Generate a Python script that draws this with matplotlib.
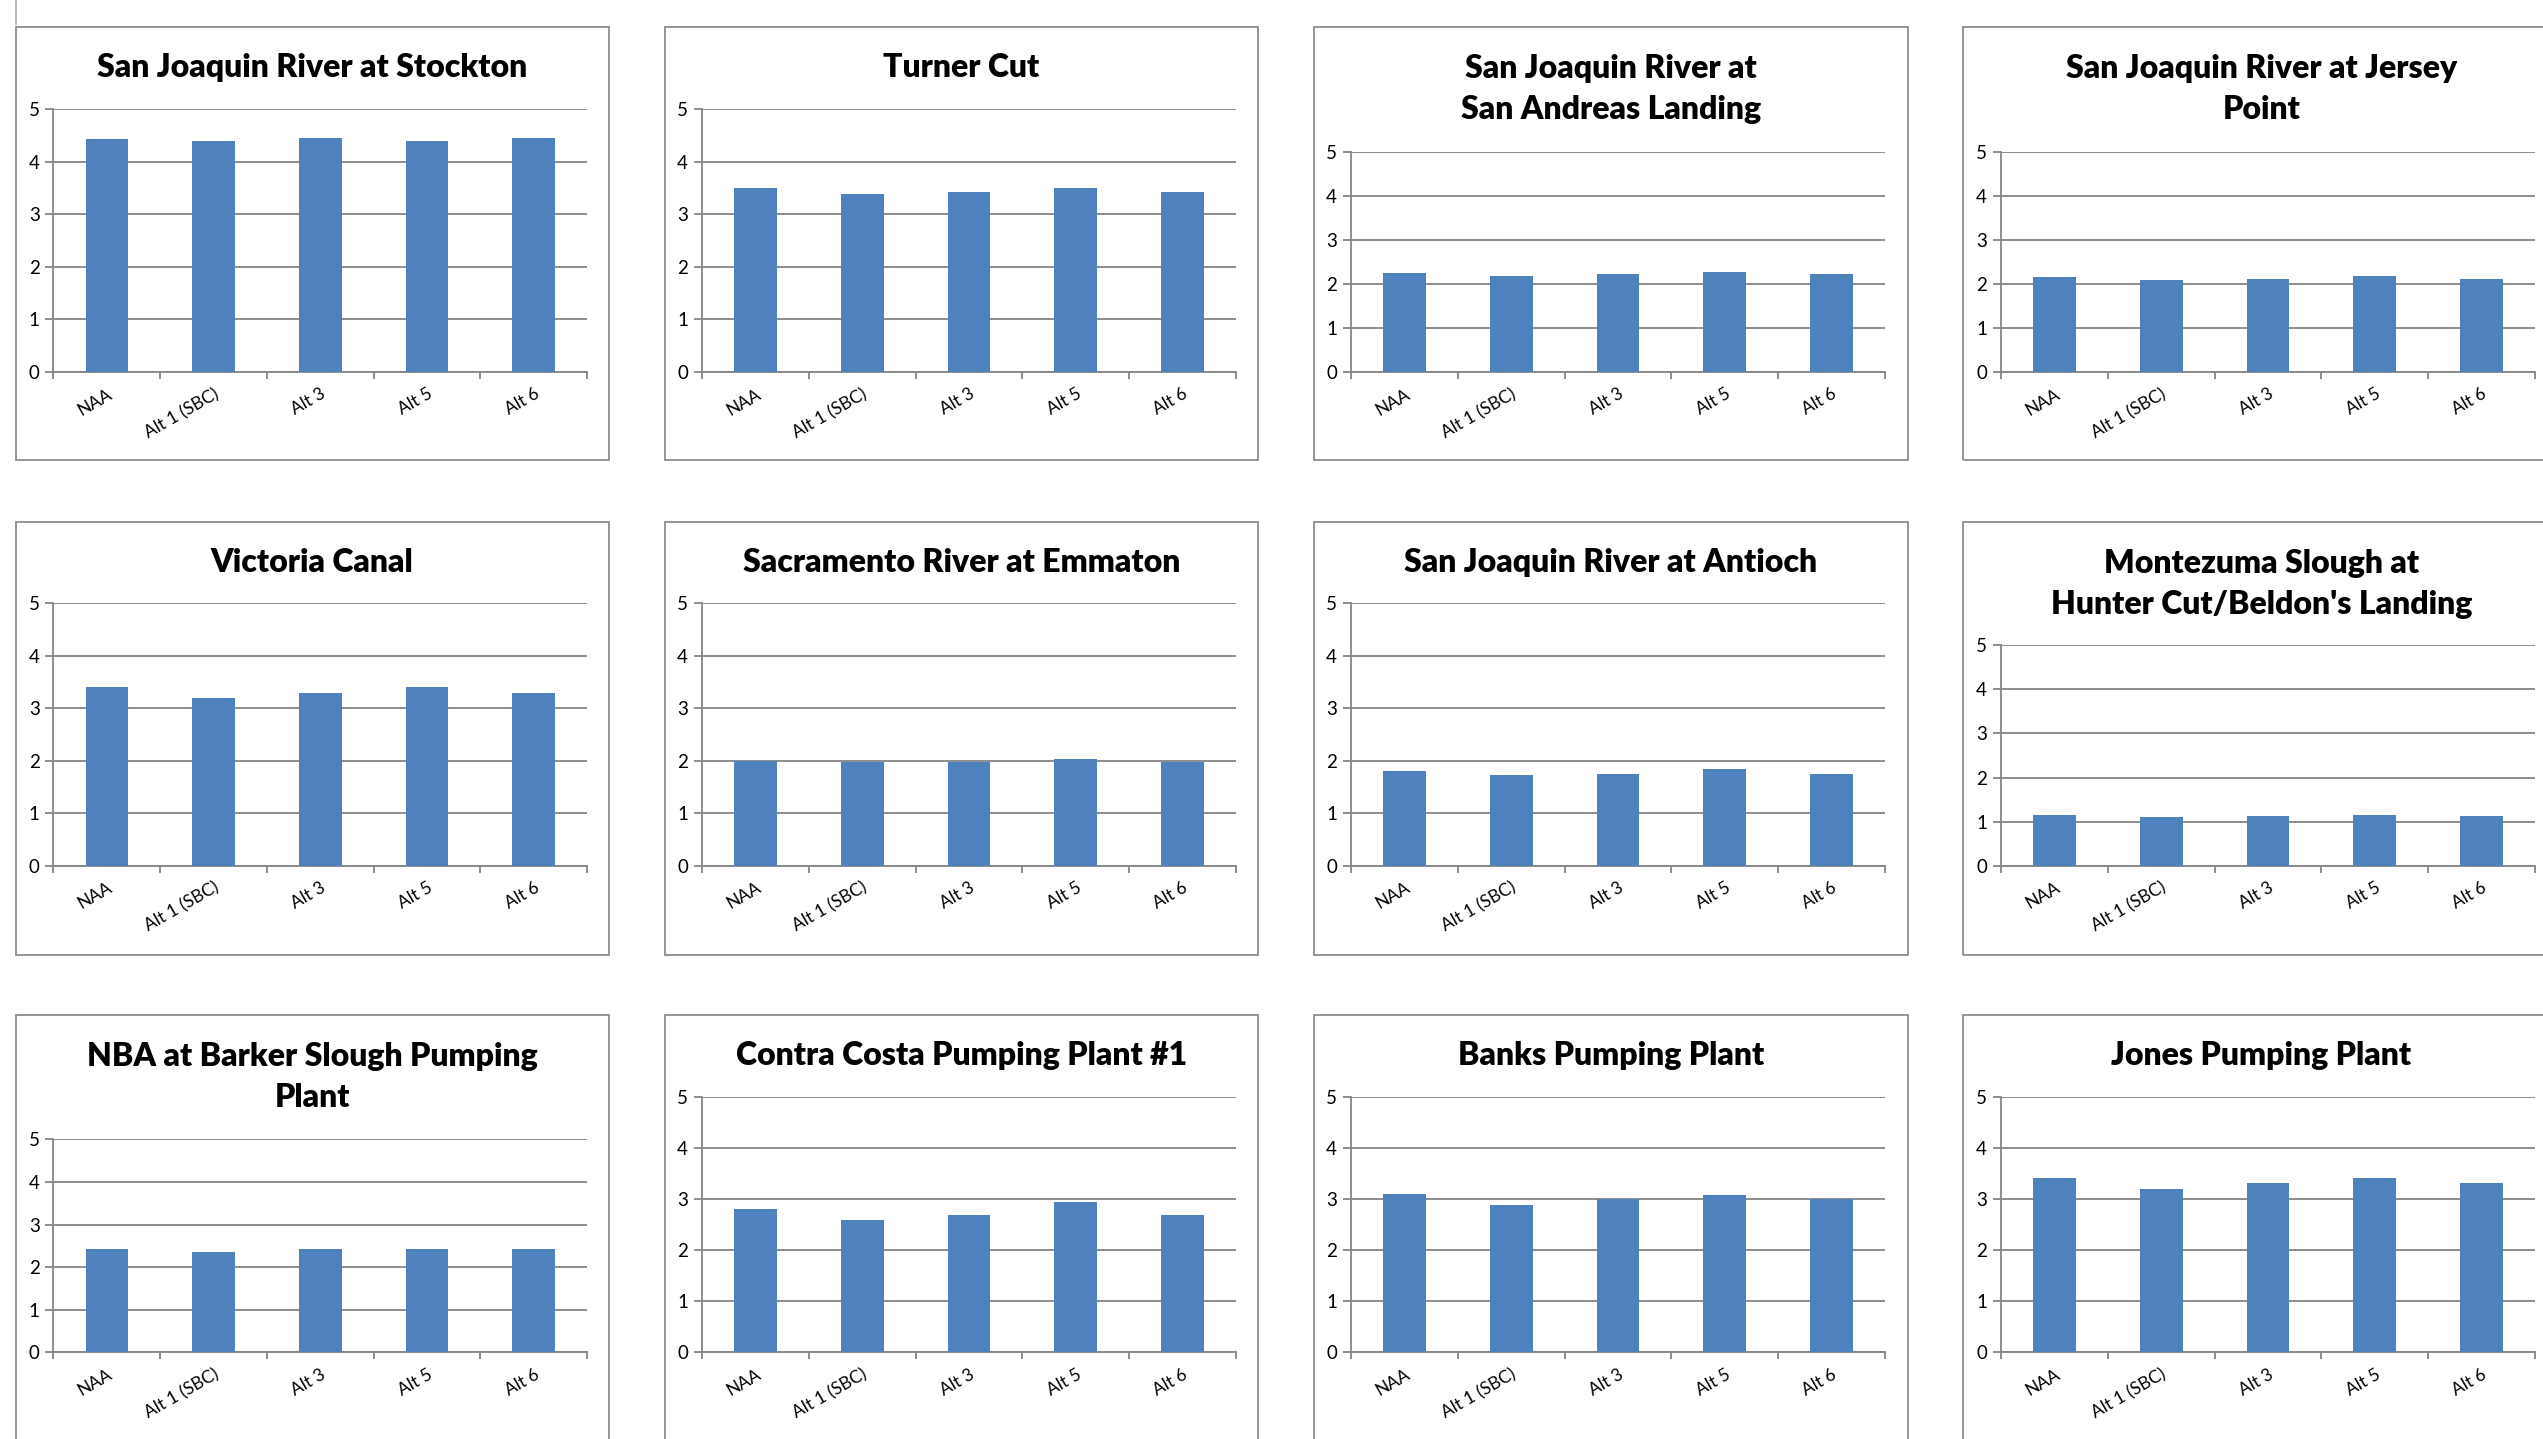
import matplotlib.pyplot as plt
from matplotlib.patches import Rectangle
import numpy as np

plt.rcParams['font.family'] = ['Lato', 'DejaVu Sans']

alternatives = ['NAA', 'Alt 1 (SBC)', 'Alt 3', 'Alt 5', 'Alt 6']

stockton = [4.43, 4.40, 4.46, 4.40, 4.46]
turner_cut = [3.51, 3.38, 3.43, 3.51, 3.43]
san_andreas = [2.25, 2.18, 2.22, 2.28, 2.22]
jersey_point = [2.16, 2.08, 2.12, 2.18, 2.12]
victoria_canal = [3.41, 3.19, 3.30, 3.41, 3.30]
emmaton = [2.00, 1.97, 1.97, 2.03, 1.97]
antioch = [1.80, 1.72, 1.75, 1.84, 1.75]
montezuma = [1.16, 1.10, 1.13, 1.16, 1.13]
barker_slough = [2.43, 2.36, 2.43, 2.43, 2.43]
contra_costa = [2.80, 2.60, 2.68, 2.94, 2.68]
banks = [3.11, 2.88, 3.00, 3.08, 3.00]
jones = [3.41, 3.19, 3.31, 3.41, 3.31]

titles = [
    'San Joaquin River at Stockton', 'Turner Cut',
    'San Joaquin River at\nSan Andreas Landing', 'San Joaquin River at Jersey\nPoint',
    'Victoria Canal', 'Sacramento River at Emmaton',
    'San Joaquin River at Antioch', "Montezuma Slough at\nHunter Cut/Beldon's Landing",
    'NBA at Barker Slough Pumping\nPlant', 'Contra Costa Pumping Plant #1',
    'Banks Pumping Plant', 'Jones Pumping Plant',
]
series = [stockton, turner_cut, san_andreas, jersey_point,
          victoria_canal, emmaton, antioch, montezuma,
          barker_slough, contra_costa, banks, jones]

W, H = 2543, 1439
fig = plt.figure(figsize=(W / 100, H / 100), dpi=100)
fig.patch.set_facecolor('white')

bar_color = '#4F81BD'
grid_color = '#858585'
frame_color = '#8c8c8c'

# pixel layout (from top-left)
plot_x = [(53.5, 587), (702, 1236), (1351, 1885), (2001, 2535)]
frame_x = [(15.5, 609), (664.5, 1258), (1314, 1908), (1963, 2560)]
frame_y = [(26.7, 460), (521.7, 955), (1015, 1452)]
plot_bottom = [372, 865.7, 1352.3]
plot_top_single = [109.3, 603.3, 1097]
plot_top_double = [151.7, 645.3, 1139.3]


def fx(px):
    return px / W


def fy(py):
    return 1 - py / H


# stray frame edge at top left
fig.add_artist(plt.Line2D([fx(15.5), fx(15.5)], [fy(0), fy(24)],
                          color='#b0b0b0', lw=1.2, transform=fig.transFigure))

for i, (title, vals) in enumerate(zip(titles, series)):
    r, c = divmod(i, 4)
    two_lines = '\n' in title
    fx0, fx1 = frame_x[c]
    fy0, fy1 = frame_y[r]
    fig.add_artist(Rectangle((fx(fx0), fy(fy1)), fx(fx1 - fx0), (fy1 - fy0) / H,
                             transform=fig.transFigure, fill=False,
                             edgecolor=frame_color, lw=1.3))
    top = plot_top_double[r] if two_lines else plot_top_single[r]
    bot = plot_bottom[r]
    x0, x1 = plot_x[c]
    ax = fig.add_axes([fx(x0), fy(bot), fx(x1 - x0), (bot - top) / H])

    pos = np.arange(len(alternatives)) + 0.5
    ax.bar(pos, vals, width=0.4, color=bar_color, zorder=3)
    ax.set_xlim(0, 5)
    ax.set_ylim(0, 5)
    ax.set_yticks(range(6))
    ax.yaxis.grid(True, color=grid_color, lw=1.3, zorder=0)
    ax.set_axisbelow(True)
    for s in ['top', 'right']:
        ax.spines[s].set_visible(False)
    for s in ['left', 'bottom']:
        ax.spines[s].set_color(grid_color)
        ax.spines[s].set_linewidth(1.3)
    ax.set_xticks(range(6))
    ax.set_xticklabels([])
    ax.set_xticks(pos, minor=True)
    ax.set_xticklabels(alternatives, minor=True, rotation=30,
                       ha='right', rotation_mode='anchor', fontsize=12.5)
    ax.tick_params(axis='x', which='major', length=5, color=grid_color, width=1.3)
    ax.tick_params(axis='x', which='minor', length=0, pad=10)
    ax.tick_params(axis='y', length=6, color=grid_color, width=1.3,
                   labelsize=13.5, pad=4)

    ty = fy0 + (62 if two_lines else 41)
    fig.text(fx((fx0 + fx1) / 2), fy(ty), title, ha='center', va='center',
             fontsize=23, fontweight='heavy', linespacing=1.5)

fig.savefig('out.png', dpi=100, facecolor='white')
